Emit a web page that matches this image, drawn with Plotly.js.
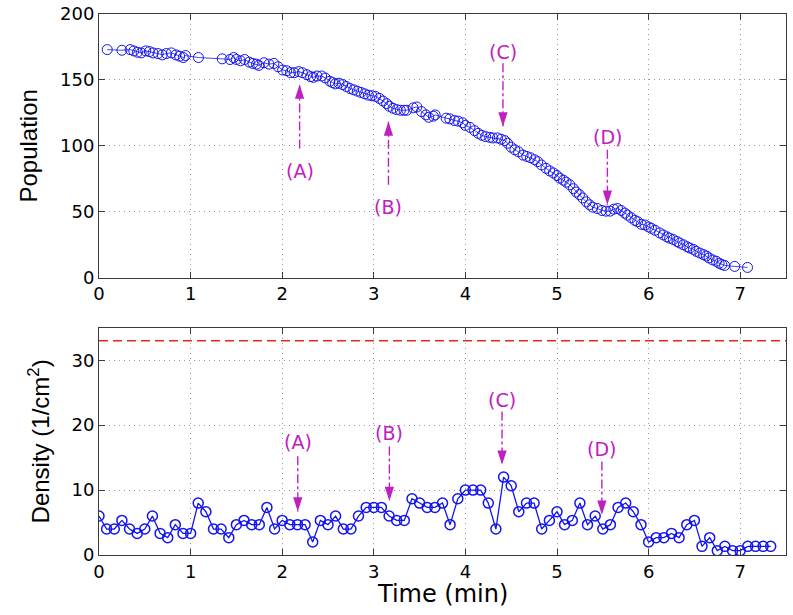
<!DOCTYPE html>
<html>
<head>
<meta charset="utf-8">
<script src="https://cdn.plot.ly/plotly-3.0.1.min.js"></script>
<style>html,body{margin:0;padding:0;background:#fff;}#chart{width:793px;height:615px;}</style>
</head>
<body>
<div id="chart"></div>
<script>
// ---- Top panel: population vs time (min) ----
const popTime = [0.09,0.25,0.34,0.38,0.42,0.46,0.51,0.55,0.59,0.645,0.69,0.735,0.79,0.84,0.88,0.92,0.945,1.085,1.345,1.43,1.47,1.50,1.545,1.59,1.64,1.68,1.72,1.745,1.80,1.855,1.91,1.955,2.005,2.05,2.09,2.13,2.18,2.22,2.27,2.31,2.34,2.38,2.43,2.47,2.52,2.55,2.58,2.62,2.66,2.70,2.74,2.78,2.82,2.86,2.90,2.94,2.98,3.02,3.06,3.10,3.14,3.17,3.21,3.25,3.29,3.33,3.36,3.43,3.47,3.52,3.57,3.60,3.65,3.67,3.79,3.83,3.88,3.92,3.97,4.00,4.05,4.10,4.14,4.18,4.22,4.265,4.30,4.35,4.39,4.43,4.46,4.50,4.54,4.58,4.63,4.67,4.71,4.755,4.79,4.83,4.88,4.92,4.96,5.00,5.03,5.07,5.10,5.14,5.18,5.21,5.245,5.28,5.32,5.355,5.39,5.44,5.49,5.535,5.58,5.62,5.66,5.70,5.74,5.77,5.81,5.85,5.88,5.92,5.96,6.00,6.03,6.07,6.12,6.16,6.20,6.23,6.27,6.31,6.34,6.38,6.42,6.45,6.49,6.52,6.56,6.60,6.63,6.66,6.70,6.74,6.77,6.80,6.83,6.94,7.08];
const popValue = [173,172.5,173,172,171,170.5,172,171.5,170.5,170,169,170,170.5,169,168,167,168.5,167,166,165.5,167,165.5,164.5,165.5,163.5,162.5,162,161,163,162,162.5,160,157.5,157,155.5,155.5,156.3,155.5,154,152.5,152,153,153,151.5,149,148,147,147.5,146.5,145,143.5,142.5,141.5,140.5,139.5,138.5,138,137.5,136,134,132,130,128.5,127.5,127,127,127,128.8,129.5,126,123.5,121.7,122.5,123.5,121,120.5,119.2,118.8,117.5,115.5,114,111.5,109.5,108,107,106.5,106,106,105,104,102,99,97,95.5,93,92,91,89.5,88,85.5,83,81,79.5,77.5,75.5,74,72.5,70.5,67.5,65,63,60.5,57.5,55.3,53.5,52.5,51,50.5,50.5,52,52.5,51,49,47.5,45.5,43.5,42.5,40.5,40,38.5,37.5,36,34,32.5,31,30,29,27.5,26.3,25,23.5,22.5,21.5,20,18.7,17.5,16.5,15,13.5,12.5,11,10,9.3,8.6,7.8];

// ---- Bottom panel: density (1/cm^2) vs time (min) ----
const denTime = [0,0.083,0.167,0.25,0.333,0.417,0.5,0.583,0.667,0.75,0.833,0.917,1,1.083,1.167,1.25,1.333,1.417,1.5,1.583,1.667,1.75,1.833,1.917,2,2.083,2.167,2.25,2.333,2.417,2.5,2.583,2.667,2.75,2.833,2.917,3,3.083,3.167,3.25,3.333,3.417,3.5,3.583,3.667,3.75,3.833,3.917,4,4.083,4.167,4.25,4.333,4.417,4.5,4.583,4.667,4.75,4.833,4.917,5,5.083,5.167,5.25,5.333,5.417,5.5,5.583,5.667,5.75,5.833,5.917,6,6.083,6.167,6.25,6.333,6.417,6.5,6.583,6.667,6.75,6.833,6.917,7,7.083,7.167,7.25,7.333];
const denValue = [6,4,4,5.33,4,3.33,4,6,3.33,2.67,4.67,3.33,
  3.33,8,6.67,4,4,2.67,4.67,5.33,4.67,4.67,7.33,4,
  5.33,4.67,4.67,4.67,2,5.33,4.67,6,4,4,6,7.33,
  7.33,7.33,6,5.33,5.33,8.67,8,7.33,7.33,8,4.67,8.67,
  10,10,10,8,4,12,10.67,6.67,8,8,4,5.33,
  6.67,4.67,5.33,8,4.67,6,4,4.67,7.33,8,6.67,4.67,
  2,2.67,2.67,3.33,2.67,4.67,5.33,1.33,2.67,0.67,1.33,0.67,
  0.67,1.33,1.33,1.33,1.33];
const thresholdDensity = 33;
const xLimits = [0, 7.5];

// ---- Event markers (A)-(D) ----
const eventLabels = ['(A)','(B)','(C)','(D)'];
const popEventX    = [2.19, 3.16, 4.41, 5.55];
const popEventTail = [98, 70.5, 162.6, 97];
const popEventTip  = [146.5, 118.5, 114.6, 55.3];
const popEventText = [81, 54, 171.4, 107];
const denEventX    = [2.17, 3.17, 4.40, 5.49];
const denEventTail = [15.2, 16.7, 22.1, 14.4];
const denEventTip  = [6.7, 8.3, 13.9, 6.2];
const denEventText = [17.4, 18.8, 23.8, 16.3];

const BLUE = '#1414f0';
const MAG = '#c020c0';
const FONT = 'Liberation Sans, Arial, Helvetica, sans-serif';
const WFONT = 'DejaVu Sans, Liberation Sans, sans-serif';

const traces = [
  {x: popTime, y: popValue, xaxis:'x', yaxis:'y', type:'scatter', mode:'lines+markers',
   line:{color:BLUE, width:0.8},
   marker:{symbol:'circle-open', size:10, color:BLUE, line:{width:1}}, hoverinfo:'skip'},
  {x: xLimits, y: [thresholdDensity, thresholdDensity], xaxis:'x2', yaxis:'y2', type:'scatter', mode:'lines',
   line:{color:'#e8261f', width:1.5, dash:'9px,5px'}, hoverinfo:'skip'},
  {x: denTime, y: denValue, xaxis:'x2', yaxis:'y2', type:'scatter', mode:'lines+markers',
   line:{color:BLUE, width:1.3},
   marker:{symbol:'circle-open', size:10, color:BLUE, line:{width:1.5}}, hoverinfo:'skip'}
];

const shapes = [];
const annotations = [];
function addEvents(xs, tails, tips, texts, xr, yr) {
  for (let i = 0; i < xs.length; i++) {
    shapes.push({type:'line', xref:xr, yref:yr, x0:xs[i], x1:xs[i], y0:tails[i], y1:tips[i],
      line:{color:MAG, width:1.4, dash:'dashdot'}});
    annotations.push({xref:xr, yref:yr, x:xs[i], y:texts[i], text:eventLabels[i], showarrow:false,
      font:{family:WFONT, size:19, color:MAG}, xanchor:'center', yanchor:'middle'});
  }
  traces.push({x: xs, y: tips, xaxis: xr, yaxis: yr, type:'scatter', mode:'markers',
    marker:{symbol:'arrow', size:15, color:MAG, line:{width:0},
      angle: tips.map((t, i) => t > tails[i] ? 0 : 180)}, hoverinfo:'skip'});
}
addEvents(popEventX, popEventTail, popEventTip, popEventText, 'x', 'y');
addEvents(denEventX, denEventTail, denEventTip, denEventText, 'x2', 'y2');

// x-axis title drawn as an annotation so it can sit just under the tick labels
annotations.push({xref:'paper', yref:'paper', x:0.5, y:-0.073, text:'Time (min)', showarrow:false,
  font:{family:WFONT, size:24, color:'#000'}, xanchor:'center', yanchor:'middle'});

const axCommon = {
  showline:true, linecolor:'#3a3a3a', linewidth:1, mirror:'ticks',
  ticks:'inside', ticklen:6, tickcolor:'#3a3a3a',
  showgrid:true, gridcolor:'#9a9a9a', griddash:'1px,4px', gridwidth:1,
  zeroline:false, tickfont:{family:WFONT, size:18, color:'#000'}
};

const layout = {
  width:793, height:615,
  margin:{l:98.5, r:7, t:14, b:59.5},
  paper_bgcolor:'#fff', plot_bgcolor:'#fff', showlegend:false,
  font:{family:FONT, color:'#000'},
  xaxis: Object.assign({}, axCommon, {domain:[0,1], anchor:'y', range:xLimits, tickvals:[0,1,2,3,4,5,6,7]}),
  yaxis: Object.assign({}, axCommon, {domain:[0.5125,1], anchor:'x', range:[0,200], tickvals:[0,50,100,150,200],
    title:{text:'Population', font:{family:FONT, size:24}, standoff:15}}),
  xaxis2: Object.assign({}, axCommon, {domain:[0,1], anchor:'y2', range:xLimits, tickvals:[0,1,2,3,4,5,6,7]}),
  yaxis2: Object.assign({}, axCommon, {domain:[0,0.42], anchor:'x2', range:[0,35], tickvals:[0,10,20,30],
    title:{text:'Density (1/cm<sup>2</sup>)', font:{family:FONT, size:24}, standoff:15}}),
  shapes: shapes,
  annotations: annotations
};

Plotly.newPlot('chart', traces, layout, {staticPlot:true, displayModeBar:false});
</script>
</body>
</html>
